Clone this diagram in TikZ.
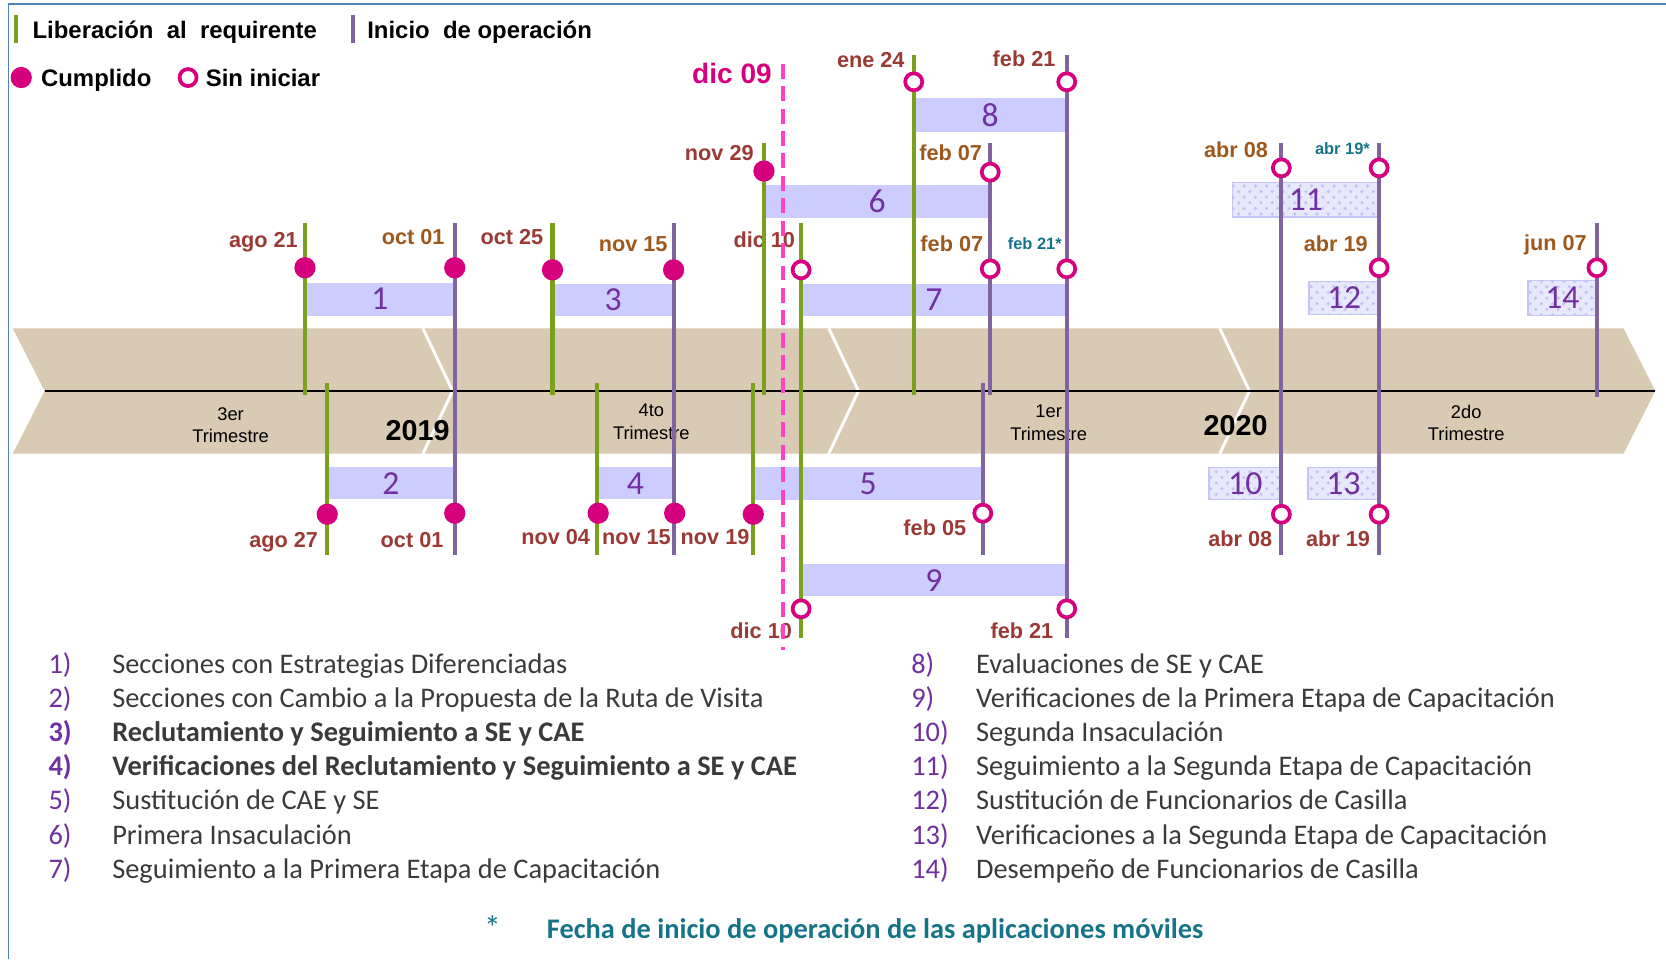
\documentclass[tikz,border=0pt]{standalone}
\usepackage{fontspec}
\setmainfont{Liberation Sans}
\newfontfamily\calibri{Carlito}
\usetikzlibrary{patterns}
\definecolor{verde}{RGB}{122,160,30}
\definecolor{morado}{RGB}{128,100,162}
\definecolor{magenta}{RGB}{214,0,126}
\definecolor{rosa}{RGB}{255,64,200}
\definecolor{lila}{RGB}{204,204,255}
\definecolor{lilaclaro}{RGB}{232,232,253}
\definecolor{lilapunto}{RGB}{196,196,245}
\definecolor{numero}{RGB}{112,48,160}
\definecolor{rojo}{RGB}{155,58,52}
\definecolor{cafe}{RGB}{158,88,30}
\definecolor{verdeazul}{RGB}{22,116,136}
\definecolor{banda}{RGB}{216,202,179}
\definecolor{marco}{RGB}{79,129,189}
\definecolor{texto}{RGB}{58,58,58}
\begin{document}
\begin{tikzpicture}
			[x=0.01cm,y=-0.01cm,
			verdeline/.style={draw=verde,line width=1.1pt},
			moradoline/.style={draw=morado,line width=1.1pt},
			hecho/.style={circle,fill=magenta,minimum size=0.2cm,inner sep=0},
			pendiente/.style={circle,draw=magenta,line width=1pt,fill=white,minimum size=0.16cm,inner sep=0},
			barra/.style={fill=lila,inner sep=0,text=numero,font=\calibri\fontsize{9}{10}\selectfont},
			patbarra/.style={barra,fill=lilaclaro,draw=lilapunto,line width=0.4pt,postaction={pattern=crosshatch dots,pattern color=lilapunto}},
			fecha/.style={anchor=base east,inner sep=0,font=\bfseries\fontsize{5.8}{6}\selectfont},
			fechita/.style={fecha,text=verdeazul,font=\bfseries\fontsize{4.4}{5}\selectfont},
			leyenda/.style={anchor=base west,inner sep=0,font=\bfseries\fontsize{6.4}{7}\selectfont},
			trim/.style={align=center,inner sep=0,font=\fontsize{4.9}{6}\selectfont},
			anio/.style={inner sep=0,font=\bfseries\fontsize{7.7}{8}\selectfont},
			num/.style={anchor=base west,inner sep=0,text=numero,font=\calibri\fontsize{7.6}{8}\selectfont},
			item/.style={anchor=base west,inner sep=0,text=texto,font=\calibri\fontsize{7.6}{8}\selectfont}]
			\useasboundingbox (0,0) rectangle (1568,903);
			\draw[marco,line width=0.5pt] (8,903) -- (8,4) -- (1568,4);
			% leyenda
			\draw[verdeline] (15,14) -- (15,40);
			\node[leyenda,name=ley1] at (30,36) {Liberación\ \ al\ \ requirente};
			\draw[moradoline] (332,14) -- (332,40);
			\node[leyenda,name=ley2] at (345,36) {Inicio\ \ de operación};
			\node[hecho,name=ley3] at (20,73) {};
			\node[leyenda,name=ley4] at (38,81) {Cumplido};
			\node[pendiente,name=ley5] at (177,73) {};
			\node[leyenda,name=ley6] at (193,81) {Sin iniciar};
			% banda de trimestres
			\fill[banda] (12,309) -- (1528,309) -- (1558,368) -- (1528,427) -- (12,427) -- (42,368) -- cycle;
			\draw[white,line width=0.8pt] (398,309) -- (426,368) -- (398,427);
			\draw[white,line width=0.8pt] (780,309) -- (808,368) -- (780,427);
			\draw[white,line width=0.8pt] (1148,309) -- (1176,368) -- (1148,427);
			\draw[black,line width=0.6pt] (42,368) -- (1558,368);
			\node[trim,name=q3] at (217,400) {3er\\Trimestre};
			\node[trim,name=q4] at (613,397) {4to\\Trimestre};
			\node[trim,name=q1] at (987,398) {1er\\Trimestre};
			\node[trim,name=q2] at (1380,398) {2do\\Trimestre};
			\node[anio,name=y19] at (393,405) {2019};
			\node[anio,name=y20] at (1163,401) {2020};
			% barras
			\node[barra,minimum width=1.41cm,minimum height=0.31cm,name=t1] at (357.5,281.5) {1};
			\node[barra,minimum width=1.20cm,minimum height=0.30cm,name=t2] at (368,455) {2};
			\node[barra,minimum width=1.14cm,minimum height=0.30cm,name=t3] at (577,282) {3};
			\node[barra,minimum width=0.72cm,minimum height=0.30cm,name=t4] at (598,455) {4};
			\node[barra,minimum width=2.16cm,minimum height=0.31cm,name=t5] at (817,455.5) {5};
			\node[barra,minimum width=2.13cm,minimum height=0.31cm,name=t6] at (825.5,189.5) {6};
			\node[barra,minimum width=2.50cm,minimum height=0.30cm,name=t7] at (879,282) {7};
			\node[barra,minimum width=1.44cm,minimum height=0.32cm,name=t8] at (932,108) {8};
			\node[barra,minimum width=2.50cm,minimum height=0.30cm,name=t9] at (879,546) {9};
			\node[patbarra,minimum width=0.68cm,minimum height=0.30cm,name=t10] at (1172,455) {10};
			\node[patbarra,minimum width=1.38cm,minimum height=0.32cm,name=t11] at (1229,188) {11};
			\node[patbarra,minimum width=0.66cm,minimum height=0.31cm,name=t12] at (1265,280.5) {12};
			\node[patbarra,minimum width=0.67cm,minimum height=0.30cm,name=t13] at (1264.5,455) {13};
			\node[patbarra,minimum width=0.65cm,minimum height=0.33cm,name=t14] at (1470.5,280.5) {14};
			% fechas
			\node[fecha,text=rojo,name=f1] at (281,233) {ago 21};
			\node[fecha,text=cafe,name=f2] at (419,230) {oct 01};
			\node[fecha,text=rojo,name=f3] at (512,230) {oct 25};
			\node[fecha,text=cafe,name=f4] at (629,237) {nov 15};
			\node[fecha,text=rojo,name=f5] at (710,151) {nov 29};
			\node[fecha,text=rojo,name=f6] at (749,233) {dic 10};
			\node[fecha,text=cafe,name=f7] at (925,151) {feb 07};
			\node[fecha,text=rojo,name=f8] at (852,64) {ene 24};
			\node[fecha,text=rojo,name=f9] at (994,63) {feb 21};
			\node[fecha,text=cafe,name=f10] at (926,237) {feb 07};
			\node[fechita,name=f11] at (1000,235) {feb 21*};
			\node[fecha,text=cafe,name=f12] at (1194,148) {abr 08};
			\node[fechita,name=f13] at (1290,145) {abr 19*};
			\node[fecha,text=cafe,name=f14] at (1288,237) {abr 19};
			\node[fecha,text=cafe,name=f15] at (1494,236) {jun 07};
			\node[fecha,text=rojo,name=f16] at (300,515) {ago 27};
			\node[fecha,text=rojo,name=f17] at (418,515) {oct 01};
			\node[fecha,text=rojo,name=f18] at (556,512) {nov 04};
			\node[fecha,text=rojo,name=f19] at (632,512) {nov 15};
			\node[fecha,text=rojo,name=f20] at (706,512) {nov 19};
			\node[fecha,text=rojo,name=f21] at (910,504) {feb 05};
			\node[fecha,text=rojo,name=f22] at (746,601) {dic 10};
			\node[fecha,text=rojo,name=f23] at (992,601) {feb 21};
			\node[fecha,text=rojo,name=f24] at (1198,514) {abr 08};
			\node[fecha,text=rojo,name=f25] at (1290,514) {abr 19};
			\node[fecha,text=magenta,font=\bfseries\fontsize{7.5}{8}\selectfont,name=f26] at (727,79) {dic 09};
			% liberacion
			\draw[verdeline] (287,210) -- (287,372);
			\draw[verdeline] (308,360) -- (308,522);
			\draw[verdeline] (520,210) -- (520,372);
			\draw[verdeline] (562,360) -- (562,522);
			\draw[verdeline] (709,360) -- (709,522);
			\draw[verdeline] (719,135) -- (719,372);
			\draw[verdeline] (754,210) -- (754,600);
			\draw[verdeline] (860,52) -- (860,372);
			% inicio de operacion
			\draw[moradoline] (428,210) -- (428,522);
			\draw[moradoline] (634,210) -- (634,522);
			\draw[moradoline] (925,360) -- (925,522);
			\draw[moradoline] (932,135) -- (932,372);
			\draw[moradoline] (1004,52) -- (1004,600);
			\draw[moradoline] (1206,135) -- (1206,522);
			\draw[moradoline] (1298,135) -- (1298,522);
			\draw[moradoline] (1503,210) -- (1503,374);
			\draw[rosa,line width=1pt,dash pattern=on 4pt off 2pt] (737,60) -- (737,612);
			% estados
			\node[hecho,name=c1] at (287,252) {};
			\node[hecho,name=c2] at (428,252) {};
			\node[hecho,name=c3] at (520,254) {};
			\node[hecho,name=c4] at (634,254) {};
			\node[hecho,name=c5] at (308,484) {};
			\node[hecho,name=c6] at (428,483) {};
			\node[hecho,name=c7] at (563,483) {};
			\node[hecho,name=c8] at (635,483) {};
			\node[hecho,name=c9] at (709,484) {};
			\node[hecho,name=c10] at (719,161) {};
			\node[pendiente,name=p1] at (754,254) {};
			\node[pendiente,name=p2] at (932,253) {};
			\node[pendiente,name=p3] at (1004,253) {};
			\node[pendiente,name=p4] at (860,77) {};
			\node[pendiente,name=p5] at (1004,77) {};
			\node[pendiente,name=p6] at (932,162) {};
			\node[pendiente,name=p7] at (925,483) {};
			\node[pendiente,name=p8] at (754,573) {};
			\node[pendiente,name=p9] at (1004,573) {};
			\node[pendiente,name=p10] at (1206,158) {};
			\node[pendiente,name=p11] at (1298,158) {};
			\node[pendiente,name=p12] at (1298,252) {};
			\node[pendiente,name=p13] at (1503,252) {};
			\node[pendiente,name=p14] at (1206,484) {};
			\node[pendiente,name=p15] at (1298,484) {};
			% lista de actividades
			\node[num,name=n1] at (45,634) {1)};
			\node[item,name=a1] at (105,634) {Secciones con Estrategias Diferenciadas};
			\node[num,name=n2] at (45,666) {2)};
			\node[item,name=a2] at (105,666) {Secciones con Cambio a la Propuesta de la Ruta de Visita};
			\node[num,font=\calibri\bfseries\fontsize{7.6}{8}\selectfont,name=n3] at (45,698) {3)};
			\node[item,font=\calibri\bfseries\fontsize{7.6}{8}\selectfont,name=a3] at (105,698) {Reclutamiento y Seguimiento a SE y CAE};
			\node[num,font=\calibri\bfseries\fontsize{7.6}{8}\selectfont,name=n4] at (45,730) {4)};
			\node[item,font=\calibri\bfseries\fontsize{7.6}{8}\selectfont,name=a4] at (105,730) {Verificaciones del Reclutamiento y Seguimiento a SE y CAE};
			\node[num,name=n5] at (45,762) {5)};
			\node[item,name=a5] at (105,762) {Sustitución de CAE y SE};
			\node[num,name=n6] at (45,795) {6)};
			\node[item,name=a6] at (105,795) {Primera Insaculación};
			\node[num,name=n7] at (45,827) {7)};
			\node[item,name=a7] at (105,827) {Seguimiento a la Primera Etapa de Capacitación};
			\node[num,name=n8] at (857,634) {8)};
			\node[item,name=a8] at (918,634) {Evaluaciones de SE y CAE};
			\node[num,name=n9] at (857,666) {9)};
			\node[item,name=a9] at (918,666) {Verificaciones de la Primera Etapa de Capacitación};
			\node[num,name=n10] at (857,698) {10)};
			\node[item,name=a10] at (918,698) {Segunda Insaculación};
			\node[num,name=n11] at (857,730) {11)};
			\node[item,name=a11] at (918,730) {Seguimiento a la Segunda Etapa de Capacitación};
			\node[num,name=n12] at (857,762) {12)};
			\node[item,name=a12] at (918,762) {Sustitución de Funcionarios de Casilla};
			\node[num,name=n13] at (857,795) {13)};
			\node[item,name=a13] at (918,795) {Verificaciones a la Segunda Etapa de Capacitación};
			\node[num,name=n14] at (857,827) {14)};
			\node[item,name=a14] at (918,827) {Desempeño de Funcionarios de Casilla};
			\node[num,text=verdeazul,font=\calibri\fontsize{9}{10}\selectfont,name=ast] at (455,884) {*};
			\node[item,text=verdeazul,font=\calibri\bfseries\fontsize{7.6}{8}\selectfont,name=nota] at (514,883) {Fecha de inicio de operación de las aplicaciones móviles};
		\end{tikzpicture}
\end{document}
